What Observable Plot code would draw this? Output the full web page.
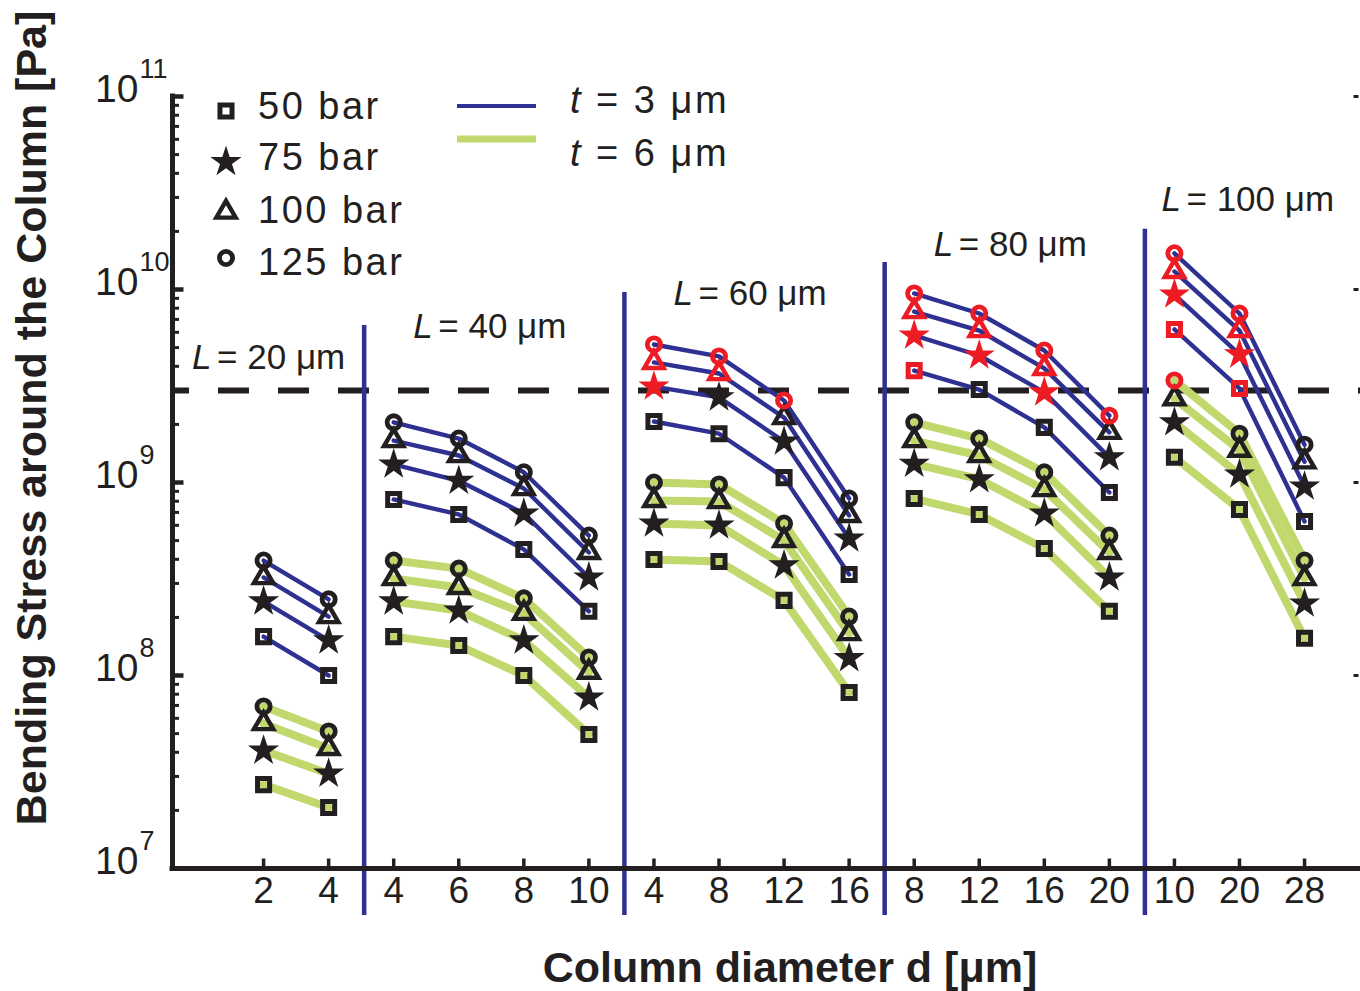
<!DOCTYPE html>
<html><head><meta charset="utf-8">
<script src="https://cdn.jsdelivr.net/npm/d3@7"></script>
<script src="https://cdn.jsdelivr.net/npm/@observablehq/plot@0.6"></script>
<style>
html,body{margin:0;padding:0;background:#fff;}
#chart{width:1360px;height:991px;position:relative;}
</style></head>
<body><div id="chart"></div>
<script>
// ---------- data ----------
const pressures = [50, 75, 100, 125];          // bar
const thicknesses = [3, 6];                    // µm
const lengths = [20, 40, 60, 80, 100];         // µm
const diameters = [[2, 4], [4, 6, 8, 10], [4, 8, 12, 16], [8, 12, 16, 20], [10, 20, 28]];

// bending stress [Pa]; rows = 50, 75, 100, 125 bar; columns = diameters of the group
const L20_t3 = [[1.59e8, 1.00e8], [2.42e8, 1.52e8], [3.22e8, 2.02e8], [3.94e8, 2.48e8]];
const L20_t6 = [[2.72e7, 2.07e7], [4.08e7, 3.10e7], [5.64e7, 4.19e7], [6.91e7, 5.13e7]];
const L40_t3 = [[8.17e8, 6.83e8, 4.50e8, 2.15e8], [1.24e9, 1.02e9, 6.91e8, 3.22e8], [1.65e9, 1.38e9, 9.31e8, 4.34e8], [2.05e9, 1.69e9, 1.13e9, 5.31e8]];
const L40_t6 = [[1.59e8, 1.43e8, 1.00e8, 4.95e7], [2.42e8, 2.17e8, 1.52e8, 7.69e7], [3.18e8, 2.86e8, 2.10e8, 1.04e8], [3.94e8, 3.58e8, 2.51e8, 1.24e8]];
const L60_t3 = [[2.07e9, 1.79e9, 1.06e9, 3.34e8], [3.14e9, 2.76e9, 1.63e9, 5.13e8], [4.19e9, 3.67e9, 2.17e9, 6.75e8], [5.19e9, 4.50e9, 2.66e9, 8.26e8]];
const L60_t6 = [[3.99e8, 3.90e8, 2.45e8, 8.17e7], [6.13e8, 5.99e8, 3.72e8, 1.23e8], [8.07e8, 7.97e8, 5.01e8, 1.65e8], [1.00e9, 9.77e8, 6.13e8, 2.02e8]];
const L80_t3 = [[3.80e9, 3.03e9, 1.93e9, 8.88e8], [5.78e9, 4.55e9, 2.93e9, 1.35e9], [7.69e9, 6.13e9, 3.90e9, 1.82e9], [9.54e9, 7.51e9, 4.83e9, 2.22e9]];
const L80_t6 = [[8.26e8, 6.83e8, 4.55e8, 2.15e8], [1.25e9, 1.04e9, 6.91e8, 3.22e8], [1.65e9, 1.38e9, 9.20e8, 4.34e8], [2.05e9, 1.69e9, 1.13e9, 5.31e8]];
const L100_t3 = [[6.21e9, 3.07e9, 6.28e8], [9.42e9, 4.61e9, 9.53e8], [1.24e10, 6.13e9, 1.28e9], [1.54e10, 7.51e9, 1.57e9]];
const L100_t6 = [[1.35e9, 7.25e8, 1.56e8], [2.05e9, 1.10e9, 2.36e8], [2.72e9, 1.47e9, 3.18e8], [3.38e9, 1.79e9, 3.94e8]];

// points flagged as exceeding the strength (1 = flagged); same layout as above
const L60_t3_flag = [[0, 0, 0, 0], [1, 0, 0, 0], [1, 1, 0, 0], [1, 1, 1, 0]];
const L80_t3_flag = [[1, 0, 0, 0], [1, 1, 1, 0], [1, 1, 1, 0], [1, 1, 1, 1]];
const L100_t3_flag = [[1, 1, 0], [1, 1, 0], [1, 1, 0], [1, 1, 0]];
const L100_t6_flag = [[0, 0, 0], [0, 0, 0], [0, 0, 0], [1, 0, 0]];

const strengthLimit = 3e9;                                   // dashed line [Pa]
const groupLabelY = [4.44e9, 6.43e9, 9.54e9, 1.71e10, 2.93e10]; // label heights [Pa]
const separatorTop = [6.51e9, 9.65e9, 1.38e10, 2.05e10];       // separator tops [Pa]
const separatorBottom = 5.71e6;
const decades = [1e7, 1e8, 1e9, 1e10, 1e11];
const yAxisTitle = "Bending Stress around the Column [Pa]";
const xAxisTitle = "Column diameter d [μm]";

// ---------- build table ----------
const stressTable = {20: {3: L20_t3, 6: L20_t6}, 40: {3: L40_t3, 6: L40_t6}, 60: {3: L60_t3, 6: L60_t6}, 80: {3: L80_t3, 6: L80_t6}, 100: {3: L100_t3, 6: L100_t6}};
const flagTable = {60: {3: L60_t3_flag}, 80: {3: L80_t3_flag}, 100: {3: L100_t3_flag, 6: L100_t6_flag}};

const rows = [];
const xTicks = [];
const groups = [];
let offset = 0;
lengths.forEach((L, g) => {
  const ds = diameters[g];
  ds.forEach((d, j) => xTicks.push({i: offset + j, d}));
  groups.push({L, first: offset, last: offset + ds.length - 1, cx: offset + (ds.length - 1) / 2, ly: groupLabelY[g]});
  thicknesses.forEach(t => {
    pressures.forEach((p, k) => {
      ds.forEach((d, j) => {
        const fl = flagTable[L] && flagTable[L][t] ? flagTable[L][t][k][j] : 0;
        rows.push({i: offset + j, d, L, t, p, v: stressTable[L][t][k][j], state: fl ? "exceeds" : "ok", key: `${L}-${t}-${p}`});
      });
    });
  });
  offset += ds.length;
});
const separators = groups.slice(0, -1).map((g, n) => ({x: (g.last + groups[n + 1].first) / 2, top: separatorTop[n]}));
const minor = [];
decades.slice(0, -1).forEach(e => { for (let k = 2; k <= 9; k++) minor.push(k * e); });

// ---------- styles ----------
const BLUE = "#2e3192", GREEN = "#c0d86c", RED = "#ed1c24", INK = "#231f20";
const FONT = "'Liberation Sans', Arial, Helvetica, sans-serif";
const xMin = -1.4, xMax = 16.86;
const tickRight = {draw(c, s) { const l = Math.sqrt(s / Math.PI); c.moveTo(0, 0); c.lineTo(l, 0); }};
const tickLeft = {draw(c, s) { const l = Math.sqrt(s / Math.PI); c.moveTo(0, 0); c.lineTo(-l, 0); }};
const tickUp = {draw(c, s) { const l = Math.sqrt(s / Math.PI); c.moveTo(0, 0); c.lineTo(0, -l); }};

const markerSpec = {
  50: {symbol: "square", r: 6.8, filled: false, sw: 5},
  75: {symbol: "star", r: 9.8, filled: true, sw: 0},
  100: {symbol: "triangle", r: 7.2, filled: false, sw: 4.4},
  125: {symbol: "circle", r: 6.6, filled: false, sw: 4.8}
};
const markerMarks = pressures.map(p => {
  const s = markerSpec[p];
  const data = rows.filter(r => r.p === p);
  return s.filled
    ? Plot.dot(data, {x: "i", y: "v", symbol: s.symbol, r: s.r, fill: "state", stroke: "none"})
    : Plot.dot(data, {x: "i", y: "v", symbol: s.symbol, r: s.r, fill: "none", stroke: "state", strokeWidth: s.sw});
});

const labelMarks = (data, shift) => [
  Plot.text(data, {x: "cx", y: "ly", text: () => "L", fontStyle: "italic", textAnchor: "start", dx: -78 + shift, fontSize: 35, fill: INK}),
  Plot.text(data, {x: "cx", y: "ly", text: d => `= ${d.L} μm`, textAnchor: "start", dx: -53 + shift, fontSize: 35, fill: INK})
];

const chart = Plot.plot({
  width: 1360, height: 991,
  marginLeft: 172, marginRight: 0, marginTop: 96, marginBottom: 123,
  x: {type: "linear", domain: [xMin, xMax], axis: null},
  y: {type: "log", domain: [1e7, 1e11], axis: null},
  color: {type: "ordinal", domain: ["ok", "exceeds"], range: [INK, RED]},
  style: {fontFamily: FONT, background: "white", color: INK, overflow: "visible"},
  marks: [
    Plot.ruleY([strengthLimit], {stroke: INK, strokeWidth: 6, strokeDasharray: "31 29", strokeDashoffset: 14}),
    Plot.ruleX(separators, {x: "x", y1: "top", y2: separatorBottom, stroke: BLUE, strokeWidth: 4.5, dx: 3}),
    Plot.line(rows.filter(r => r.t === 6), {x: "i", y: "v", z: "key", stroke: GREEN, strokeWidth: 8}),
    Plot.line(rows.filter(r => r.t === 3), {x: "i", y: "v", z: "key", stroke: BLUE, strokeWidth: 4.4}),
    ...markerMarks,
    // axes frame
    Plot.ruleX([xMin], {y1: 1e7, y2: 1e11, stroke: INK, strokeWidth: 5, strokeLinecap: "square"}),
    Plot.ruleY([1e7], {stroke: INK, strokeWidth: 5, strokeLinecap: "square"}),
    Plot.dot(decades, {x: xMin, y: d => d, symbol: tickRight, r: 11, stroke: INK, strokeWidth: 4.5, fill: "none"}),
    Plot.dot(minor, {x: xMin, y: d => d, symbol: tickRight, r: 6.5, stroke: INK, strokeWidth: 3, fill: "none"}),
    Plot.dot(decades.slice(1), {x: xMax, y: d => d, symbol: tickLeft, r: 5, stroke: INK, strokeWidth: 3, fill: "none", dx: -2}),
    Plot.dot(xTicks, {x: "i", y: 1e7, symbol: tickUp, r: 10, stroke: INK, strokeWidth: 3.5, fill: "none"}),
    Plot.text(xTicks, {x: "i", y: 1e7, text: d => String(d.d), dy: 23, fontSize: 37, fill: INK}),
    Plot.text(decades, {x: xMin, y: d => d, text: () => "10", textAnchor: "end", dx: -34, dy: -7, fontSize: 39, fill: INK}),
    Plot.text(decades, {x: xMin, y: d => d, text: d => String(Math.round(Math.log10(d))), textAnchor: "start", dx: -33, dy: -27, fontSize: 27, fill: INK}),
    ...labelMarks(groups.slice(0, 1), -26),
    ...labelMarks(groups.slice(1), 0)
  ]
});

const root = document.getElementById("chart");
root.appendChild(chart);

// ---------- legend & titles ----------
const svg = d3.select(chart);
const leg = svg.append("g").attr("font-family", FONT).attr("fill", INK).attr("text-anchor", "start");
const legendSyms = [
  {p: 50, type: d3.symbolSquare, y: 111},
  {p: 75, type: d3.symbolStar, y: 162},
  {p: 100, type: d3.symbolTriangle, y: 212},
  {p: 125, type: d3.symbolCircle, y: 258}
];
const textY = [106, 157, 210, 262];
legendSyms.forEach((s, n) => {
  const spec = markerSpec[s.p];
  leg.append("path")
    .attr("d", d3.symbol(s.type, spec.r * spec.r * Math.PI)())
    .attr("transform", `translate(226,${s.y})`)
    .attr("fill", spec.filled ? INK : "none")
    .attr("stroke", spec.filled ? "none" : INK)
    .attr("stroke-width", spec.sw);
  leg.append("text").attr("x", 258).attr("y", textY[n]).attr("dy", "0.35em").attr("text-anchor", "start")
    .attr("font-size", 38).attr("letter-spacing", 2.5).text(`${s.p} bar`);
});
[[thicknesses[0], BLUE, 4, 106, 100], [thicknesses[1], GREEN, 7, 139, 153]].forEach(([t, col, w, ly, ty]) => {
  leg.append("line").attr("x1", 457).attr("x2", 536).attr("y1", ly).attr("y2", ly).attr("stroke", col).attr("stroke-width", w);
  const tx = leg.append("text").attr("x", 570).attr("y", ty).attr("dy", "0.35em").attr("text-anchor", "start")
    .attr("font-size", 38).attr("letter-spacing", 2.5);
  tx.append("tspan").attr("font-style", "italic").text("t");
  tx.append("tspan").text(` = ${t} μm`);
});
svg.append("text").attr("transform", "translate(31,418) rotate(-90)").attr("text-anchor", "middle").attr("dy", "0.35em")
  .attr("font-family", FONT).attr("font-weight", "bold").attr("font-size", 43).attr("fill", INK).text(yAxisTitle);
svg.append("text").attr("x", 790).attr("y", 967).attr("text-anchor", "middle").attr("dy", "0.35em")
  .attr("font-family", FONT).attr("font-weight", "bold").attr("font-size", 43).attr("fill", INK).text(xAxisTitle);
</script>
</body></html>
